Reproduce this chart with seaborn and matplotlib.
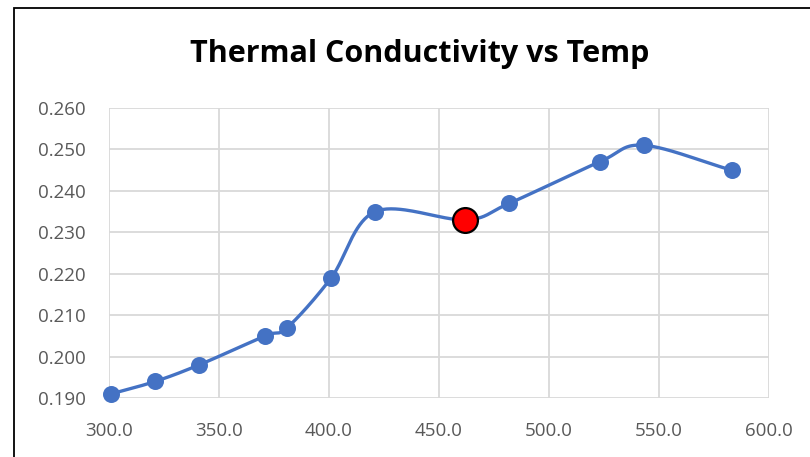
import numpy as np
import pandas as pd
import matplotlib
matplotlib.use("Agg")
import matplotlib.pyplot as plt
import seaborn as sns
from matplotlib.patches import Rectangle

temps = [301, 321, 341, 371, 381, 401, 421, 462, 482, 523, 543, 583]
conductivity = [0.191, 0.194, 0.198, 0.205, 0.207, 0.219, 0.235, 0.233, 0.237, 0.247, 0.251, 0.245]
highlight_temp = [462]
highlight_k = [0.233]
x_ticks = [300, 350, 400, 450, 500, 550, 600]
y_ticks = [0.190, 0.200, 0.210, 0.220, 0.230, 0.240, 0.250, 0.260]
title = "Thermal Conductivity vs Temp"


def catmull_rom(xs, ys, n=40):
    xs = np.asarray(xs, float)
    ys = np.asarray(ys, float)
    P = np.column_stack([xs, ys])
    P = np.vstack([P[0] * 2 - P[1], P, P[-1] * 2 - P[-2]])
    out = []
    for i in range(1, len(P) - 2):
        p0, p1, p2, p3 = P[i - 1], P[i], P[i + 1], P[i + 2]
        c1 = p1 + (p2 - p0) / 6.0
        c2 = p2 - (p3 - p1) / 6.0
        t = np.linspace(0, 1, n, endpoint=(i == len(P) - 3))[:, None]
        b = ((1 - t) ** 3) * p1 + 3 * ((1 - t) ** 2) * t * c1 + 3 * (1 - t) * t ** 2 * c2 + t ** 3 * p2
        out.append(b)
    return np.vstack(out)


sns.set_theme(style="white")
plt.rcParams['font.family'] = ['Open Sans', 'DejaVu Sans']

fig = plt.figure(figsize=(8.1, 4.57), dpi=100)
ax = fig.add_axes([109 / 810, 59 / 457, 660 / 810, 290 / 457])

line_color = "#4472C4"
sx = 660 / 300.0
sy = 290 / 0.07
pts = catmull_rom(np.array(temps) * sx, np.array(conductivity) * sy)
curve = pd.DataFrame({"T": pts[:, 0] / sx, "k": pts[:, 1] / sy})

sns.lineplot(data=curve, x="T", y="k", ax=ax, color=line_color, lw=2.4,
             sort=False, estimator=None)
df = pd.DataFrame({"T": temps, "k": conductivity})
sns.scatterplot(data=df, x="T", y="k", ax=ax, color=line_color, s=150,
                edgecolor=line_color, linewidth=0, zorder=3, clip_on=False)
hl = pd.DataFrame({"T": highlight_temp, "k": highlight_k})
sns.scatterplot(data=hl, x="T", y="k", ax=ax, color="#FF0000", s=320,
                edgecolor="black", linewidth=1.6, zorder=4, clip_on=False)

ax.set_xlim(300, 600)
ax.set_ylim(0.19, 0.26)
ax.set_xticks(x_ticks)
ax.set_yticks(y_ticks)
ax.set_xticklabels([f"{v:.1f}" for v in x_ticks])
ax.set_yticklabels([f"{v:.3f}" for v in y_ticks])
ax.grid(True, color="#D9D9D9", lw=1.3)
ax.set_axisbelow(True)
for s in ax.spines.values():
    s.set_visible(False)
ax.tick_params(axis="both", length=0, labelsize=13.5, colors="#595959")
ax.tick_params(axis="y", pad=17)
ax.tick_params(axis="x", pad=17)
ax.set_xlabel("")
ax.set_ylabel("")

fig.text(420 / 810, 1 - 54 / 457, title, ha="center", va="center",
         fontsize=22, fontweight="bold", color="black")

fig.patches.append(Rectangle((14 / 810, -0.1), 1.2, (1 - 8 / 457) + 0.1,
                             transform=fig.transFigure, fill=False,
                             edgecolor="black", lw=1.3, zorder=10))

fig.savefig("out.png", dpi=100)
